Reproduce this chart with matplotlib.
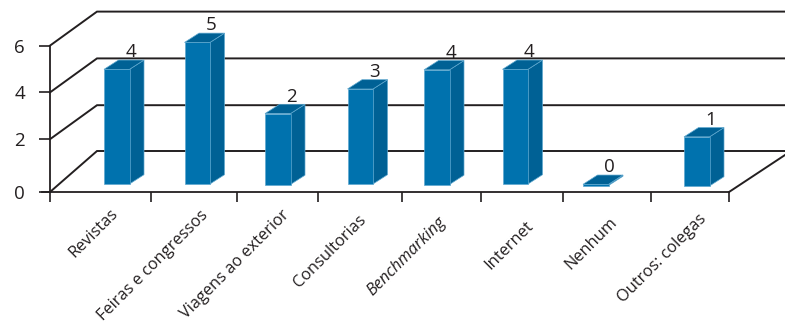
import matplotlib
matplotlib.use('Agg')
import matplotlib.pyplot as plt
from matplotlib.patches import Polygon

plt.rcParams['font.family'] = ['Open Sans', 'DejaVu Sans']

# Data
categories = ['Revistas', 'Feiras e congressos', 'Viagens ao exterior', 'Consultorias',
              'Benchmarking', 'Internet', 'Nenhum', 'Outros: colegas']
bar_heights = [4.9, 6.05, 3.03, 4.06, 4.9, 4.9, 0.05, 2.1]
value_labels = ['4', '5', '2', '3', '4', '4', '0', '1']
y_labels = ['0', '2', '4', '6']

# Layout, in pixels of the 785x325 image
W, H = 785, 325
PX_PER_UNIT = 23.4
BASE_PX = 186
bar_left = [104, 184.5, 265, 347.5, 424, 502.5, 583, 684]
bar_base_px = [184, 184, 184.5, 184, 184.5, 184, 185.5, 186]
label_end = [110, 200, 281, 358, 438, 525, 609, 698]
label_top = [205, 207, 207, 212, 214, 218, 214, 211]
tick_px = [50, 151, 237, 318, 402, 481, 563, 651, 729]
BAR_W = 25.5
DEPTH_X, DEPTH_Y = 14.5, 9.3
WALL_X = 47
floor_val = (BASE_PX - 192) / PX_PER_UNIT
y_ticks = [floor_val, 2, 4, 6]
FRONT = '#0072ae'
DARK = '#006195'
EDGE = '#5fa8cf'
INK = '#231f20'


def du(px):
    return px / PX_PER_UNIT


fig = plt.figure(figsize=(W / 100, H / 100), dpi=100)
ax = fig.add_axes([0, 0, 1, 1])
ax.set_xlim(0, W)
ax.set_ylim(du(BASE_PX - H), du(BASE_PX))

# axes
for s in ['top', 'right']:
    ax.spines[s].set_visible(False)
ax.spines['left'].set_position(('data', 50))
ax.spines['left'].set_bounds(floor_val, 6)
ax.spines['bottom'].set_position(('data', floor_val))
ax.spines['bottom'].set_bounds(42, 729)
for s in ['left', 'bottom']:
    ax.spines[s].set_linewidth(1.3)
    ax.spines[s].set_color(INK)
ax.set_yticks(y_ticks)
ax.set_yticklabels(y_labels, fontsize=13.5, color=INK)
ax.tick_params(axis='y', length=8, width=1.2, color=INK, pad=10)
ax.set_xticks(tick_px)
ax.set_xticklabels([])
ax.tick_params(axis='x', length=7, width=1.2, color=INK)
ax.patch.set_alpha(0)

# wall and floor lines going back
for v in y_ticks:
    rise = du(41) if v == floor_val else du(34)
    ax.plot([50, 50 + WALL_X, W], [v, v + rise, v + rise], color=INK, lw=1.4, zorder=1,
            solid_joinstyle='miter')
ax.plot([729, W], [floor_val, floor_val + du(37)], color=INK, lw=1.4, zorder=1)

# bars
for i, h in enumerate(bar_heights):
    x0 = bar_left[i]
    x1 = x0 + BAR_W
    y0 = du(BASE_PX - bar_base_px[i])
    y1 = y0 + h
    dx = DEPTH_X
    dy = du(DEPTH_Y)
    ax.add_patch(Polygon([(x1, y0), (x1 + dx, y0 + dy), (x1 + dx, y1 + dy), (x1, y1)],
                         facecolor=DARK, edgecolor=EDGE, lw=0.5, zorder=3))
    ax.add_patch(Polygon([(x0, y1), (x1, y1), (x1 + dx, y1 + dy), (x0 + dx, y1 + dy)],
                         facecolor=DARK, edgecolor=EDGE, lw=0.5, zorder=3))
    ax.bar(x0, h, width=BAR_W, bottom=y0, align='edge', color=FRONT, edgecolor=EDGE, lw=0.5, zorder=4)
    ax.text(x1 + 1, y1 + du(12), value_labels[i], ha='center', va='baseline',
            fontsize=13.5, color=INK, zorder=5)

# category labels
for i, name in enumerate(categories):
    style = 'italic' if name == 'Benchmarking' else 'normal'
    ax.text(label_end[i], du(BASE_PX - label_top[i]), name, rotation=45, rotation_mode='anchor',
            ha='right', va='top', fontsize=11.8, color=INK, style=style, clip_on=False)

fig.savefig('out.png', dpi=100)
